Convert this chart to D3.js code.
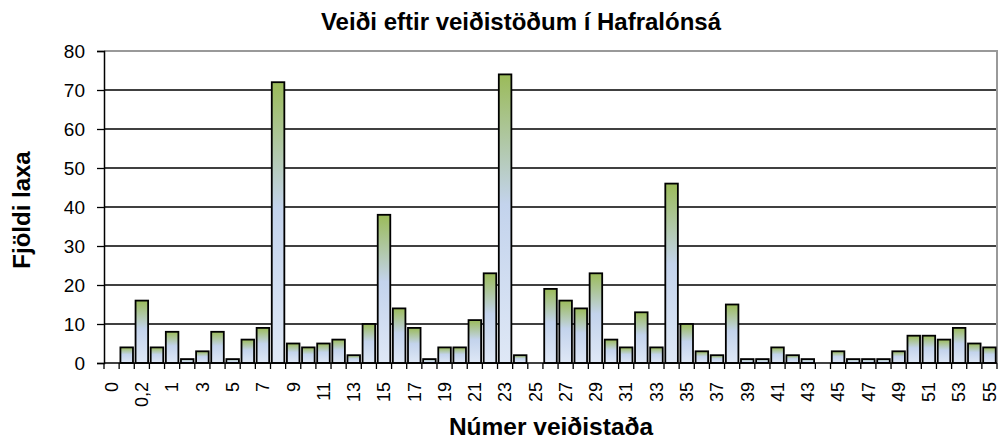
<!DOCTYPE html>
<html>
<head>
<meta charset="utf-8">
<script src="https://cdn.jsdelivr.net/npm/d3@7"></script>
<style>
  body { margin: 0; background: #fff; }
  svg { font-family: "Liberation Sans", Arial, sans-serif; }
</style>
</head>
<body>
<svg id="chart" width="1001" height="439"></svg>
<script>
// veiðistaðir (some categories carry no visible label)
const stadir = ["0", "0,1", "0,2", "0,5", "1", "2", "3", "4", "5", "6", "7", "8", "9", "10",
  "11", "12", "13", "14", "15", "16", "17", "18", "19", "20", "21", "22", "23", "24", "25",
  "26", "27", "28", "29", "30", "31", "32", "33", "34", "35", "36", "37", "38", "39", "40",
  "41", "42", "43", "44", "45", "46", "47", "48", "49", "50", "51", "52", "53", "54", "55"];
const veidi = [0, 4, 16, 4, 8, 1, 3, 8, 1, 6, 9, 72, 5, 4, 5, 6, 2, 10, 38, 14, 9, 1, 4, 4, 11,
  23, 74, 2, 0, 19, 16, 14, 23, 6, 4, 13, 4, 46, 10, 3, 2, 15, 1, 1, 4, 2, 1, 0, 3, 1, 1, 1,
  3, 7, 7, 6, 9, 5, 4];
const yTicks = [0, 10, 20, 30, 40, 50, 60, 70, 80];

const margin = {top: 51, right: 4, bottom: 76, left: 104};
const W = 1001, H = 439;
const svg = d3.select("#chart");

const x = d3.scaleBand()
    .domain(stadir)
    .range([margin.left, W - margin.right])
    .paddingInner(0.17)
    .paddingOuter(0.085);
const y = d3.scaleLinear().domain([0, 80]).range([H - margin.bottom, margin.top]);

// gradient for bars
const grad = svg.append("defs").append("linearGradient")
    .attr("id", "barGrad")
    .attr("x1", 0).attr("y1", 0).attr("x2", 0).attr("y2", 1);
grad.append("stop").attr("offset", "0%").attr("stop-color", "#9bbb59");
grad.append("stop").attr("offset", "45%").attr("stop-color", "#c3d3ec");
grad.append("stop").attr("offset", "100%").attr("stop-color", "#dfe8f6");

// plot frame (top & right gray)
svg.append("path")
    .attr("d", `M${margin.left},${margin.top}H${W - margin.right}V${H - margin.bottom}`)
    .attr("fill", "none").attr("stroke", "#999").attr("stroke-width", 2);

// gridlines
svg.append("g").selectAll("line")
    .data(yTicks.filter(d => d > 0 && d < 80))
    .join("line")
    .attr("x1", margin.left).attr("x2", W - margin.right - 1)
    .attr("y1", d => y(d)).attr("y2", d => y(d))
    .attr("stroke", "#000").attr("stroke-width", 1.3);

// bars
svg.append("g").selectAll("rect")
    .data(veidi.map((v, i) => ({k: stadir[i], v})).filter(d => d.v > 0))
    .join("rect")
    .attr("x", d => x(d.k))
    .attr("y", d => y(d.v))
    .attr("width", x.bandwidth())
    .attr("height", d => y(0) - y(d.v))
    .attr("fill", "url(#barGrad)")
    .attr("stroke", "#000").attr("stroke-width", 1.8);

// y axis
const yAxis = svg.append("g")
    .attr("transform", `translate(${margin.left},0)`)
    .call(d3.axisLeft(y).tickValues(yTicks).tickSize(7).tickPadding(12));
yAxis.select(".domain").attr("stroke", "#000").attr("stroke-width", 1.5);
yAxis.selectAll(".tick line").attr("stroke", "#000").attr("stroke-width", 1.3);
yAxis.selectAll("text").attr("font-size", 19).attr("fill", "#000")
    .attr("font-family", "Liberation Sans, Arial, sans-serif");

// x axis: ticks at category boundaries
const step = x.step();
const bounds = d3.range(stadir.length + 1).map(i => margin.left + i * step);
const xg = svg.append("g");
xg.append("line")
    .attr("x1", margin.left).attr("x2", W - margin.right)
    .attr("y1", y(0)).attr("y2", y(0))
    .attr("stroke", "#000").attr("stroke-width", 1.5);
xg.selectAll("line.tk")
    .data(bounds)
    .join("line").attr("class", "tk")
    .attr("x1", d => d).attr("x2", d => d)
    .attr("y1", y(0)).attr("y2", y(0) + 6)
    .attr("stroke", "#000").attr("stroke-width", 1.3);
xg.selectAll("text")
    .data(stadir.filter((d, i) => i % 2 === 0))
    .join("text")
    .attr("transform", d => `translate(${x(d) + x.bandwidth() / 2},${y(0) + 19}) rotate(-90)`)
    .attr("text-anchor", "end")
    .attr("dy", "0.35em")
    .attr("font-size", 18)
    .text(d => d);

// titles
svg.append("text")
    .attr("x", 521).attr("y", 30)
    .attr("text-anchor", "middle")
    .attr("font-size", 24).attr("font-weight", "bold")
    .text("Veiði eftir veiðistöðum í Hafralónsá");
svg.append("text")
    .attr("x", 551).attr("y", 435)
    .attr("text-anchor", "middle")
    .attr("font-size", 24.5).attr("font-weight", "bold")
    .text("Númer veiðistaða");
svg.append("text")
    .attr("transform", "translate(30,210) rotate(-90)")
    .attr("text-anchor", "middle")
    .attr("font-size", 24).attr("font-weight", "bold")
    .text("Fjöldi laxa");
</script>
</body>
</html>
